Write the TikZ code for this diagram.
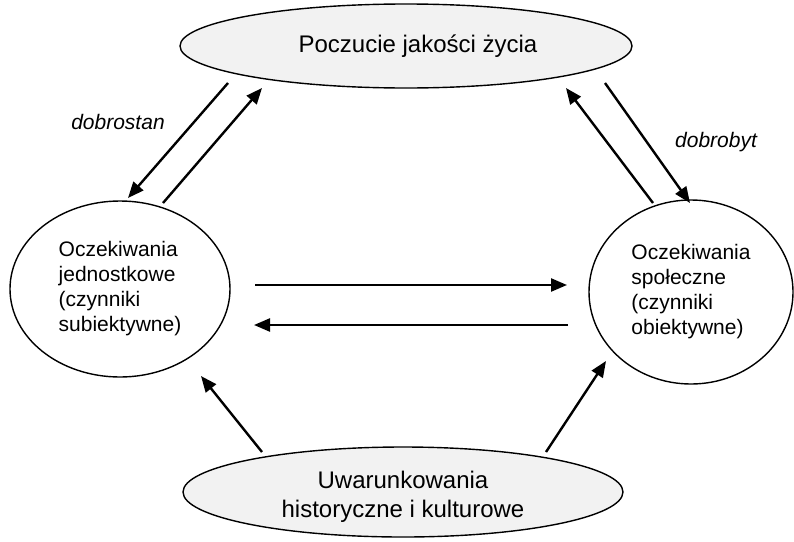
\documentclass[tikz,border=0pt]{standalone}
\usepackage{fontspec}
\setmainfont{Liberation Sans}
\usetikzlibrary{arrows.meta,shapes.geometric}

\begin{document}
\begin{tikzpicture}[x=1pt, y=-1pt,
    oval/.style={ellipse, draw, line width=1.4pt, inner sep=0pt},
    big/.style={font=\fontsize{24}{29}\selectfont, align=center},
    conn/.style={line width=2.4pt, -{Triangle[length=16pt,width=13pt]}},
    tag/.style={font=\fontsize{21}{25}\selectfont\itshape}]
      \useasboundingbox (0,0) rectangle (794,541);

      % Ellipses
      \node[oval, fill=black!5, minimum width=452, minimum height=84] (life) at (406,46) {};
      \node[big] (lifetext) at (418,46) {Poczucie jakości życia};
      \node[oval, minimum width=220, minimum height=176, align=left, font=\fontsize{21}{25}\selectfont] (indiv) at (120,289) {Oczekiwania\\jednostkowe\\(czynniki\\subiektywne)};
      \node[oval, minimum width=204, minimum height=184, align=left, font=\fontsize{21}{25}\selectfont] (social) at (691,292) {Oczekiwania\\społeczne\\(czynniki\\obiektywne)};
      \node[oval, fill=black!5, minimum width=440, minimum height=90] (hist) at (403,492) {};
      \node[big] (histtext) at (403,497) {Uwarunkowania\\historyczne i kulturowe};

      % Arrow ends
      \coordinate (a1) at (228,83);   \coordinate (a2) at (128,198);
      \coordinate (b1) at (163,203);  \coordinate (b2) at (262,88);
      \coordinate (c1) at (653,203);  \coordinate (c2) at (566,88);
      \coordinate (d1) at (605,83);   \coordinate (d2) at (690,203);
      \coordinate (e1) at (255,285);  \coordinate (e2) at (567,285);
      \coordinate (f1) at (568,325);  \coordinate (f2) at (254,325);
      \coordinate (g1) at (262,452);  \coordinate (g2) at (201,376);
      \coordinate (h1) at (546,452);  \coordinate (h2) at (606,361);

      % Connections
      \draw[conn] (a1) -- (a2);
      \draw[conn] (b1) -- (b2);
      \draw[conn] (c1) -- (c2);
      \draw[conn] (d1) -- (d2);
      \draw[conn] (e1) -- (e2);
      \draw[conn] (f1) -- (f2);
      \draw[conn] (g1) -- (g2);
      \draw[conn] (h1) -- (h2);

      % Labels
      \node[tag] (wellbeing) at (118,122) {dobrostan};
      \node[tag] (welfare) at (716,142) {dobrobyt};
\end{tikzpicture}
\end{document}
